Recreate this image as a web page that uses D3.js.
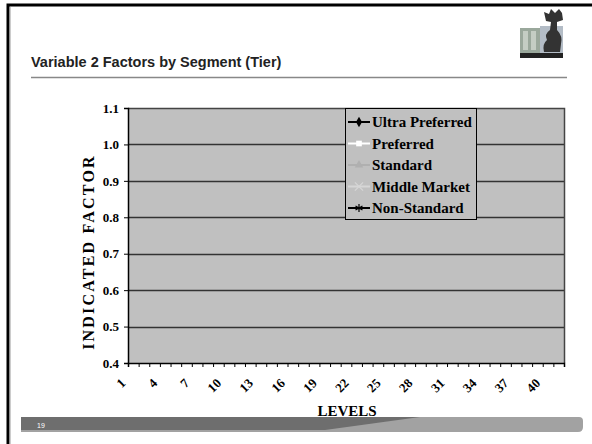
<!DOCTYPE html>
<html>
<head>
<meta charset="utf-8">
<script src="https://cdn.jsdelivr.net/npm/d3@7/dist/d3.min.js"></script>
<style>
  body { margin: 0; background: #fff; }
  svg { display: block; }
</style>
</head>
<body>
<div id="chart"></div>
<script>
// Categories (levels) on the x axis
const levels = [1, 2, 3, 4, 5, 6, 7, 8, 9, 10, 11, 12, 13, 14, 15, 16, 17, 18, 19, 20,
    21, 22, 23, 24, 25, 26, 27, 28, 29, 30, 31, 32, 33, 34, 35, 36, 37, 38, 39, 40, 41];
const levelLabels = [1, 4, 7, 10, 13, 16, 19, 22, 25, 28, 31, 34, 37, 40];
const yTicks = [0.4, 0.5, 0.6, 0.7, 0.8, 0.9, 1.0, 1.1];

// Series names and values (no points are visible inside the plotted range)
const seriesNames = ['Ultra Preferred', 'Preferred', 'Standard', 'Middle Market', 'Non-Standard'];
const ultraPreferred = [];
const preferred = [];
const standard = [];
const middleMarket = [];
const nonStandard = [];

const width = 592;
const height = 444;
const plot = { left: 128, right: 564, top: 108, bottom: 363 };
const serif = 'Liberation Serif, Times New Roman, serif';

const svg = d3.select('#chart')
    .append('svg')
    .attr('width', width)
    .attr('height', height);

// Slide frame
svg.append('path')
    .attr('d', `M8,444 V5 H592`)
    .attr('fill', 'none')
    .attr('stroke', '#000')
    .attr('stroke-width', 3);
svg.append('line')
    .attr('x1', 10).attr('x2', 10).attr('y1', 7).attr('y2', 444)
    .attr('stroke', '#999').attr('stroke-width', 1);

// Title
svg.append('text')
    .attr('x', 31)
    .attr('y', 67)
    .style('font-family', 'Liberation Sans, Arial, sans-serif')
    .style('font-weight', 'bold')
    .style('font-size', '14.5px')
    .attr('fill', '#222')
    .text('Variable 2 Factors by Segment (Tier)');

svg.append('line')
    .attr('x1', 31).attr('x2', 567)
    .attr('y1', 77.5).attr('y2', 77.5)
    .attr('stroke', '#888')
    .attr('stroke-width', 1.5);

// Logo (rough)
const logo = svg.append('g').attr('transform', 'translate(520,8)');
logo.append('rect').attr('x', 0).attr('y', 20).attr('width', 20).attr('height', 25).attr('fill', '#9aa89c');
logo.append('rect').attr('x', 3).attr('y', 23).attr('width', 5).attr('height', 19).attr('fill', '#c4cdc4');
logo.append('rect').attr('x', 11).attr('y', 23).attr('width', 5).attr('height', 19).attr('fill', '#c4cdc4');
logo.append('rect').attr('x', 20).attr('y', 18).attr('width', 23).attr('height', 27).attr('fill', '#b3bcc6');
logo.append('path')
    .attr('d', 'M24,44 Q22,36 27,32 Q24,26 30,22 L31,14 L26,13 L24,4 L29,6 L31,1 L35,5 L39,1 L42,5 L43,12 L37,14 L37,22 Q43,28 41,36 L40,44 Z')
    .attr('fill', '#333');
logo.append('rect').attr('x', 0).attr('y', 45).attr('width', 43).attr('height', 5).attr('fill', '#222');

// Footer bar
const footer = svg.append('g');
footer.append('path')
    .attr('d', 'M21,417 H579 Q583,417 583,421 V427 Q583,432 578,432 H21 Z')
    .attr('fill', '#a2a2a2');
footer.append('path')
    .attr('d', 'M21,417 H420 L325,430 H21 Z')
    .attr('fill', '#6e6e6e');
footer.append('text')
    .attr('x', 37).attr('y', 428)
    .style('font-family', 'Liberation Sans, Arial, sans-serif')
    .style('font-size', '7px')
    .attr('fill', '#fff')
    .text('19');

// Scales
const xScale = d3.scaleBand()
    .domain(levels)
    .range([plot.left, plot.right]);

const xEdge = d3.scaleLinear()
    .domain([0, levels.length])
    .range([plot.left, plot.right]);

const yScale = d3.scaleLinear()
    .domain([0.4, 1.1])
    .range([plot.bottom, plot.top]);

// Plot background
svg.append('rect')
    .attr('x', plot.left)
    .attr('y', plot.top)
    .attr('width', plot.right - plot.left)
    .attr('height', plot.bottom - plot.top)
    .attr('fill', '#c0c0c0');

// Gridlines
svg.append('g')
    .selectAll('line')
    .data(yTicks.filter(d => d > 0.4 && d < 1.1))
    .enter()
    .append('line')
    .attr('x1', plot.left).attr('x2', plot.right)
    .attr('y1', d => Math.round(yScale(d)) + 0.5)
    .attr('y2', d => Math.round(yScale(d)) + 0.5)
    .attr('stroke', '#333')
    .attr('stroke-width', 1.3);

// Plot border (top and right)
svg.append('path')
    .attr('d', `M${plot.left},${plot.top + 0.5} H${plot.right + 0.5} V${plot.bottom}`)
    .attr('fill', 'none')
    .attr('stroke', '#444')
    .attr('stroke-width', 1.5);

// Series lines (drawn from the arrays; empty here)
const seriesData = [ultraPreferred, preferred, standard, middleMarket, nonStandard];
const seriesColors = ['#000', '#fff', '#b0b0b0', '#d6d6d6', '#000'];
const line = d3.line()
    .defined(d => d != null)
    .x((d, i) => xScale(levels[i]) + xScale.bandwidth() / 2)
    .y(d => yScale(d));

svg.append('g')
    .selectAll('path')
    .data(seriesData)
    .enter()
    .append('path')
    .attr('d', d => line(d))
    .attr('fill', 'none')
    .attr('stroke', (d, i) => seriesColors[i])
    .attr('stroke-width', 2);

// Y axis
const yAxis = d3.axisLeft(yScale)
    .tickValues(yTicks)
    .tickSize(4)
    .tickPadding(5)
    .tickFormat(d3.format('.1f'));

const yG = svg.append('g')
    .attr('transform', `translate(${plot.left}, 0)`)
    .call(yAxis);
yG.select('.domain').attr('stroke', '#000').attr('stroke-width', 1.5);
yG.selectAll('.tick line').attr('stroke', '#000');
yG.selectAll('text')
    .style('font-family', serif)
    .style('font-weight', 'bold')
    .style('font-size', '13px')
    .attr('fill', '#000');

// X axis: ticks at category edges
const xTickAxis = d3.axisBottom(xEdge)
    .tickValues(d3.range(levels.length + 1))
    .tickSize(4)
    .tickFormat('');

const xG = svg.append('g')
    .attr('transform', `translate(0, ${plot.bottom})`)
    .call(xTickAxis);
xG.select('.domain').attr('stroke', '#000').attr('stroke-width', 1.5);
xG.selectAll('.tick line').attr('stroke', '#000');

// X axis labels (every third level, rotated)
const xLabelAxis = d3.axisBottom(xScale)
    .tickValues(levelLabels)
    .tickSize(0)
    .tickPadding(0);

const xL = svg.append('g')
    .attr('transform', `translate(0, ${plot.bottom})`)
    .call(xLabelAxis);
xL.select('.domain').remove();
xL.selectAll('text')
    .style('font-family', serif)
    .style('font-weight', 'bold')
    .style('font-size', '13px')
    .attr('fill', '#000')
    .attr('text-anchor', 'end')
    .attr('dy', null)
    .attr('y', 0)
    .attr('transform', 'translate(-7, 21) rotate(-45)');

// Axis titles
svg.append('text')
    .attr('x', 347)
    .attr('y', 416)
    .style('text-anchor', 'middle')
    .style('font-family', serif)
    .style('font-weight', 'bold')
    .style('font-size', '15px')
    .text('LEVELS');

svg.append('text')
    .attr('transform', 'rotate(-90)')
    .attr('x', -252)
    .attr('y', 94)
    .style('text-anchor', 'middle')
    .style('font-family', serif)
    .style('font-weight', 'bold')
    .style('font-size', '16px')
    .style('letter-spacing', '2.2px')
    .text('INDICATED FACTOR');

// Legend
const legend = svg.append('g').attr('transform', 'translate(345, 108)');
legend.append('rect')
    .attr('x', 0.5).attr('y', 0.5)
    .attr('width', 131).attr('height', 111)
    .attr('fill', '#c0c0c0')
    .attr('stroke', '#000')
    .attr('stroke-width', 1);

const rows = legend.selectAll('g.row')
    .data(seriesNames)
    .enter()
    .append('g')
    .attr('class', 'row')
    .attr('transform', (d, i) => `translate(0, ${14 + i * 21.5})`);

rows.append('line')
    .attr('x1', 3).attr('x2', 25)
    .attr('y1', 0).attr('y2', 0)
    .attr('stroke', (d, i) => seriesColors[i])
    .attr('stroke-width', 2);

// Markers
const markerShapes = [d3.symbolDiamond, d3.symbolSquare, d3.symbolTriangle, d3.symbolX, d3.symbolAsterisk];
rows.append('path')
    .attr('transform', 'translate(14, 0)')
    .attr('d', (d, i) => d3.symbol().type(markerShapes[i]).size(i >= 3 ? 45 : 32)())
    .attr('fill', (d, i) => i >= 3 ? 'none' : seriesColors[i])
    .attr('stroke', (d, i) => i >= 3 ? seriesColors[i] : 'none')
    .attr('stroke-width', 1.2);

rows.append('text')
    .attr('x', 27)
    .attr('y', 5)
    .style('font-family', serif)
    .style('font-weight', 'bold')
    .style('font-size', '15px')
    .text(d => d);
</script>
</body>
</html>
